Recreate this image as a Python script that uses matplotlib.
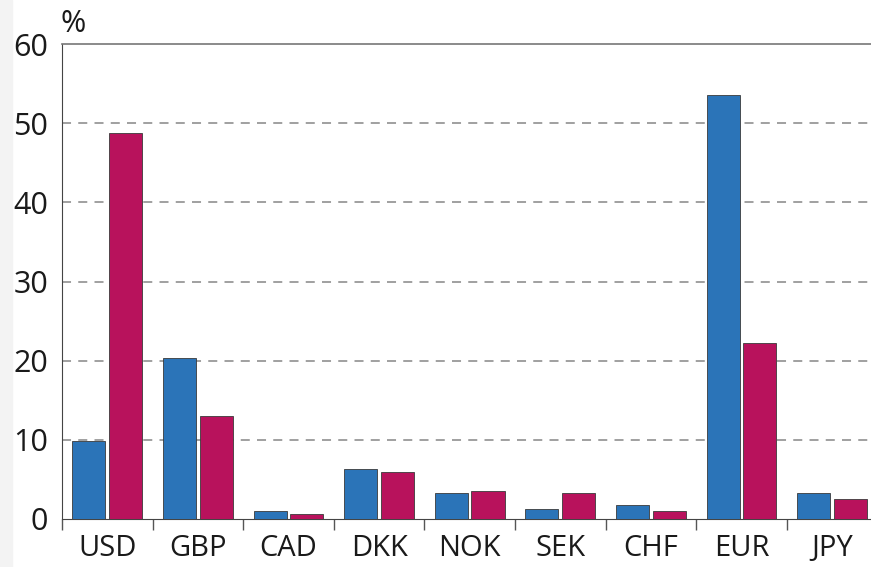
import numpy as np
import matplotlib
matplotlib.use("Agg")
from matplotlib import pyplot as plt
from matplotlib.patches import Rectangle

# data
currencies = ["USD", "GBP", "CAD", "DKK", "NOK", "SEK", "CHF", "EUR", "JPY"]
series_blue = [9.9, 20.3, 1.0, 6.3, 3.3, 1.3, 1.8, 53.5, 3.3]
series_red = [48.7, 13.0, 0.6, 5.9, 3.6, 3.3, 1.0, 22.2, 2.5]
y_ticks = [0, 10, 20, 30, 40, 50, 60]

plt.rcParams["font.family"] = ["Open Sans", "DejaVu Sans"]

fig = plt.figure(figsize=(8.71, 5.67), dpi=100)
fig.patches.append(Rectangle((0, 0), 12 / 871, 1, transform=fig.transFigure,
                             color="#f3f3f3", zorder=0))
ax = fig.add_axes([62 / 871, 48 / 567, 1 - 62 / 871, (519 - 44) / 567])

x = np.arange(len(currencies))
w = 0.365
ax.bar(x - 0.02 - w / 2, series_blue, w, color="#2b74b8", edgecolor="#3a3a3a",
       linewidth=0.6, zorder=3)
ax.bar(x + 0.02 + w / 2, series_red, w, color="#b8125c", edgecolor="#3a3a3a",
       linewidth=0.6, zorder=3)

ax.set_xlim(-0.5, len(currencies) - 0.57)
ax.set_ylim(0, 60)
ax.set_yticks(y_ticks)
ax.set_yticklabels([str(t) for t in y_ticks], fontsize=22, color="#1a1a1a")
ax.tick_params(axis="y", length=0, pad=10)

# category labels centered, tick marks at boundaries
ax.set_xticks(np.arange(len(currencies)) - 0.5)
ax.set_xticklabels([])
ax.tick_params(axis="x", length=8, width=1, color="#555555", direction="out")
ax.set_xticks(x, minor=True)
ax.set_xticklabels(currencies, minor=True, fontsize=21, color="#1a1a1a")
ax.tick_params(axis="x", which="minor", length=0, pad=11)

for y in y_ticks[1:-1]:
    ax.axhline(y, color="#999999", linestyle=(0, (5, 4)), linewidth=1.3, zorder=1)

ax.spines["right"].set_visible(False)
ax.spines["top"].set_color("#777777")
ax.spines["top"].set_linewidth(1.2)
ax.spines["left"].set_color("#444444")
ax.spines["bottom"].set_color("#444444")

fig.text(60 / 871, 1 - 24 / 567, "%", fontsize=22, color="#1a1a1a", va="center")

plt.savefig("out.png", dpi=100)
